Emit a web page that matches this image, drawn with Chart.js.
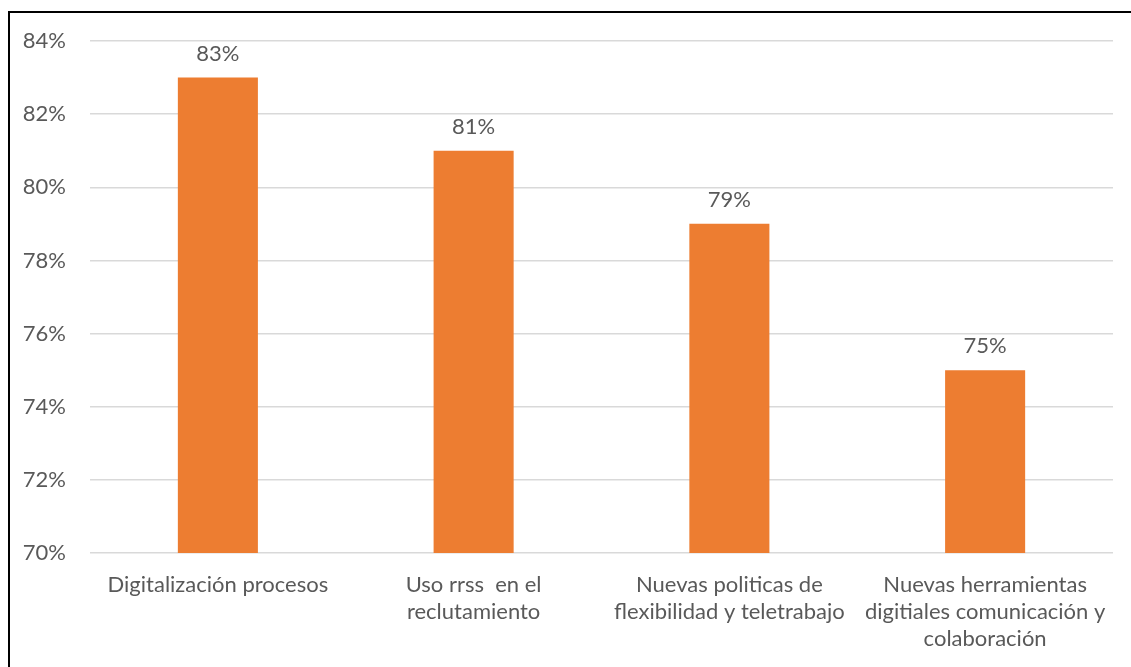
<!DOCTYPE html>
<html>
<head>
<meta charset="utf-8">
<script src="https://cdn.jsdelivr.net/npm/chart.js@4.4.1/dist/chart.umd.min.js"></script>
<style>
    html, body { margin: 0; padding: 0; background: #fff; overflow: hidden; }
    #frame {
        position: absolute; left: 8px; top: 11px;
        width: 1200px; height: 700px;
        border: 2px solid #000;
    }
    #chart { position: absolute; left: 0; top: 0; }
</style>
</head>
<body>
<div id="frame"></div>
<canvas id="chart" width="1131" height="667"></canvas>
<script>
// Chart data
const categories = [
    ['Digitalización procesos'],
    ['Uso rrss  en el', 'reclutamiento'],
    ['Nuevas politicas de', 'flexibilidad y teletrabajo'],
    ['Nuevas herramientas', 'digitiales comunicación y', 'colaboración']
];
const values = [83, 81, 79, 75];
const yTicks = [70, 72, 74, 76, 78, 80, 82, 84];

const FONT = 'Lato, "Liberation Sans", sans-serif';
const TEXT = '#595959';

// Value labels above bars
const barLabels = {
    id: 'barLabels',
    afterDatasetsDraw(chart) {
        const c = chart.ctx;
        const meta = chart.getDatasetMeta(0);
        c.save();
        c.font = `22px ${FONT}`;
        c.fillStyle = TEXT;
        c.textAlign = 'center';
        c.textBaseline = 'alphabetic';
        meta.data.forEach((bar, i) => {
            c.fillText(values[i] + '%', bar.x, bar.y - 17);
        });
        c.restore();
    }
};

const ctx = document.getElementById('chart').getContext('2d');
new Chart(ctx, {
    type: 'bar',
    data: {
        labels: categories,
        datasets: [{
            data: values,
            backgroundColor: '#ED7D31',
            borderWidth: 0,
            categoryPercentage: 1,
            barPercentage: 0.313
        }]
    },
    options: {
        responsive: false,
        animation: false,
        layout: { padding: { left: 0, right: 18, top: 41, bottom: 0 } },
        plugins: {
            legend: { display: false },
            tooltip: { enabled: false }
        },
        scales: {
            y: {
                min: yTicks[0],
                max: yTicks[yTicks.length - 1],
                afterBuildTicks: (axis) => { axis.ticks = yTicks.map(v => ({ value: v })); },
                afterFit: (axis) => { axis.width = 90; },
                ticks: {
                    callback: (v) => v + '%',
                    color: TEXT,
                    font: { family: FONT, size: 22 },
                    padding: 24
                },
                grid: { color: '#d9d9d9', lineWidth: 1.5, drawTicks: false },
                border: { display: false }
            },
            x: {
                afterFit: (axis) => { axis.height = 114; },
                ticks: {
                    color: TEXT,
                    font: { family: FONT, size: 22, lineHeight: 1.23 },
                    padding: 10,
                    maxRotation: 0,
                    autoSkip: false
                },
                grid: { display: false },
                border: { display: false }
            }
        }
    },
    plugins: [barLabels]
});
</script>
</body>
</html>
